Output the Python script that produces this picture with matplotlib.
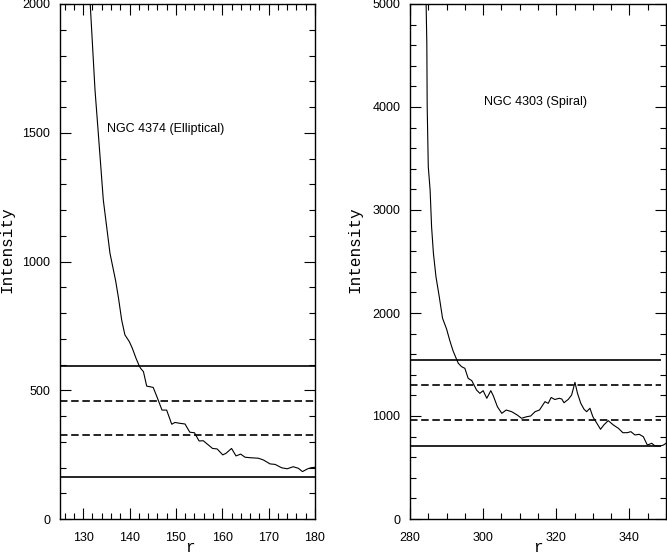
import matplotlib
matplotlib.use("Agg")
import matplotlib.pyplot as plt
from matplotlib.ticker import MultipleLocator

# ---- data ----
left_r = [131.5, 132.55, 133.26, 134.34, 135.78, 137.0, 137.6, 138.3, 139.0, 139.95,
          140.6, 141.4, 142.1, 142.4, 143.0, 143.7, 144.3, 145.1, 145.9, 147.0,
          148.0, 149.1, 149.8, 150.7, 151.96, 153.0, 154.0, 155.0, 155.9, 157.9,
          158.9, 160.1, 160.8, 162.0, 162.96, 163.97, 164.9, 166.0, 167.8, 168.9,
          170.3, 171.4, 172.8, 174.0, 175.3, 176.4, 177.3, 178.3, 179.1, 180.0]
left_I = [2005, 1666, 1498, 1239, 1032, 925, 860, 773, 715, 689,
          663, 624, 594, 585, 572, 516, 514, 511, 475, 423,
          423, 368, 375, 372, 369, 337, 335, 303, 304, 274,
          272, 249, 255, 274, 245, 252, 240, 238, 236, 229,
          214, 212, 199, 195, 203, 197, 184, 194, 199, 201]

right_r = [284.4, 284.6, 284.7, 285.0, 285.5, 285.9, 286.4, 287.1, 288.0, 288.9,
           290.0, 290.9, 291.8, 292.5, 293.2, 294.1, 295.0, 295.9, 296.9, 298.2,
           299.1, 300.0, 301.0, 302.1, 302.8, 303.9, 305.1, 306.3, 307.8, 309.3,
           310.5, 311.9, 313.0, 314.2, 315.4, 316.9, 317.8, 318.6, 319.6, 320.8,
           321.5, 322.1, 323.3, 324.2, 325.1, 325.8, 326.7, 327.6, 328.3, 329.2,
           330.0, 331.0, 332.1, 333.0, 334.2, 335.6, 337.0, 338.2, 339.4, 340.4,
           341.5, 342.7, 343.8, 344.9, 346.1, 347.0, 348.4, 349.3, 350.0]
right_I = [5010, 4618, 4003, 3420, 3194, 2838, 2580, 2352, 2158, 1949,
           1845, 1730, 1630, 1570, 1512, 1479, 1463, 1366, 1343, 1252,
           1220, 1246, 1172, 1246, 1194, 1090, 1026, 1058, 1042, 1010,
           978, 993, 1000, 1042, 1058, 1139, 1123, 1180, 1160, 1172,
           1165, 1129, 1162, 1204, 1327, 1220, 1123, 1065, 1042, 1075,
           993, 935, 871, 913, 955, 913, 880, 838, 838, 848,
           816, 822, 799, 718, 735, 709, 709, 718, 735]

left_solid = [595, 165]
left_dashed = [460, 325]
right_solid = [1541, 709]
right_dashed = [1298, 958]

left_label = "NGC 4374 (Elliptical)"
right_label = "NGC 4303 (Spiral)"

W, H = 667, 555
fig = plt.figure(figsize=(W / 100, H / 100), dpi=100)

tick_font = dict(family="Liberation Sans", size=9)
lab_font = dict(family="Liberation Mono", size=11.5)


def setup(ax, xlim, ylim, xmaj, xmin, ymaj, ymin):
    ax.set_xlim(*xlim)
    ax.set_ylim(*ylim)
    ax.xaxis.set_major_locator(MultipleLocator(xmaj))
    ax.xaxis.set_minor_locator(MultipleLocator(xmin))
    ax.yaxis.set_major_locator(MultipleLocator(ymaj))
    ax.yaxis.set_minor_locator(MultipleLocator(ymin))
    ax.tick_params(which="both", direction="in", top=True, right=True, width=0.8)
    ax.tick_params(which="major", length=8)
    ax.tick_params(which="minor", length=4)
    ax.tick_params(axis="y", which="major", pad=7)
    ax.tick_params(axis="x", which="major", pad=9.5)
    for lbl in ax.get_xticklabels() + ax.get_yticklabels():
        lbl.set_fontfamily(tick_font["family"])
        lbl.set_fontsize(tick_font["size"])
    for s in ax.spines.values():
        s.set_linewidth(1.0)
    ax.set_xlabel("r", fontdict=lab_font, va="baseline")
    ax.set_ylabel("Intensity", fontdict=lab_font)


ax1 = fig.add_axes([60 / W, 36 / H, 255 / W, 515 / H])
ax1.plot(left_r, left_I, color="black", lw=0.8)
ax1.hlines(left_solid, 125, 180, colors="black", lw=1.2)
ax1.hlines(left_dashed, 125, 180, colors="black", lw=1.2, linestyles=(0, (4.5, 2.2)))
setup(ax1, (125, 180), (0, 2000), 10, 2, 500, 100)
ax1.text(135.1, 1515, left_label, family="Liberation Sans", size=9, va="center", ha="left")
ax1.yaxis.set_label_coords(-0.18, 0.522)
ax1.xaxis.set_label_coords(0.51, -0.064)

ax2 = fig.add_axes([410 / W, 36 / H, 256 / W, 515 / H])
ax2.plot(right_r, right_I, color="black", lw=0.8, clip_on=True)
ax2.hlines(right_solid, 280, 348.7, colors="black", lw=1.2)
ax2.hlines(right_dashed, 280, 348.7, colors="black", lw=1.2, linestyles=(0, (4.5, 2.2)))
setup(ax2, (280, 350), (0, 5000), 20, 5, 1000, 200)
ax2.text(300.2, 4049, right_label, family="Liberation Sans", size=9, va="center", ha="left")
ax2.yaxis.set_label_coords(-0.1875, 0.522)
ax2.xaxis.set_label_coords(0.5, -0.064)

fig.savefig("out.png", dpi=100)
